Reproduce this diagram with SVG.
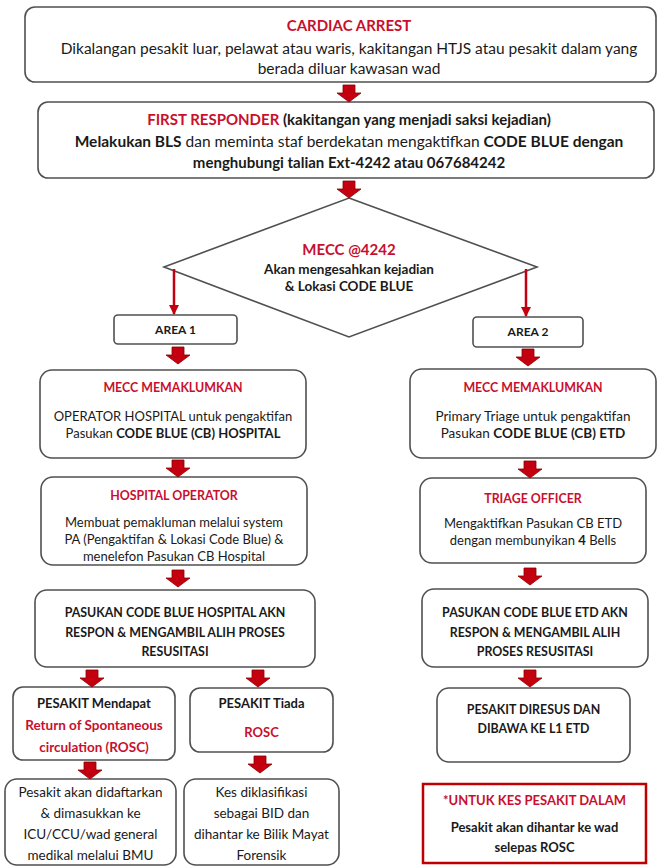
<svg xmlns="http://www.w3.org/2000/svg" width="658" height="867" viewBox="0 0 658 867">
<defs>
<style>
.box{fill:#fff;stroke:#505050;stroke-width:1.6}
.rbox{fill:#fff;stroke:#c00000;stroke-width:2.5}
text{font-family:Lato,"Liberation Sans",sans-serif;text-anchor:middle;fill:#1a1a1a}
.b{font-weight:bold}
.r{fill:#c8102e;font-weight:bold}
.f15{font-size:15.5px}
.f15b{font-size:15px}
.f13{font-size:13px}
.f13b{font-size:13.5px}
.fc{font-size:12.4px}
.f12{font-size:12px}
.ba{fill:#c40010;stroke:#8c0000;stroke-width:0.8}
.thin{stroke:#c40010;stroke-width:2.5;fill:none}
</style>
<path id="ba" d="M-6,0H6V8H12L0,17L-12,8H-6Z"/>
<marker id="ah" viewBox="0 0 10 10" refX="9" refY="5" markerWidth="4" markerHeight="4" orient="auto"><path d="M0,0L10,5L0,10Z" fill="#c40010"/></marker>
</defs>
<rect width="658" height="867" fill="#fff"/>

<g id="n-cardiac">
<rect class="box" x="25" y="7" width="631" height="75" rx="10"/>
<text x="349" y="31" class="f15b r">CARDIAC ARREST</text>
<text x="349" y="54" class="f15">Dikalangan pesakit luar, pelawat atau waris, kakitangan HTJS atau pesakit dalam yang</text>
<text x="349" y="74" class="f15">berada diluar kawasan wad</text>
</g>

<g id="n-first">
<rect class="box" x="38" y="102" width="616" height="76" rx="10"/>
<text x="349" y="125" class="f15b b"><tspan class="r">FIRST RESPONDER</tspan> (kakitangan yang menjadi saksi kejadian)</text>
<text x="349" y="147" class="f15"><tspan class="b">Melakukan BLS</tspan> dan meminta staf berdekatan mengaktifkan <tspan class="b">CODE BLUE dengan</tspan></text>
<text x="349" y="168" class="f15b b">menghubungi talian Ext-4242 atau 067684242</text>
</g>

<g id="n-mecc">
<polygon class="box" points="349,198 537,267 349,337 164,267"/>
<text x="349" y="255" class="f15b r">MECC @4242</text>
<text x="349" y="274" class="f13b b">Akan mengesahkan kejadian</text>
<text x="349" y="291" class="f13b b">&amp; Lokasi CODE BLUE</text>
</g>

<g id="n-area1">
<rect class="box" x="114" y="315" width="123" height="29" rx="4"/>
<text x="175.5" y="334" class="f12 b">AREA 1</text>
</g>

<g id="n-area2">
<rect class="box" x="473" y="317" width="110" height="30" rx="4"/>
<text x="528" y="336" class="f12 b">AREA 2</text>
</g>

<g id="n-l1">
<rect class="box" x="40" y="370" width="266" height="88" rx="12"/>
<text x="173" y="392" class="fc r">MECC MEMAKLUMKAN</text>
<text x="173" y="421" class="f13">OPERATOR HOSPITAL untuk pengaktifan</text>
<text x="173" y="438" class="f13">Pasukan <tspan class="b">CODE BLUE (CB) HOSPITAL</tspan></text>
</g>

<g id="n-l2">
<rect class="box" x="41" y="477" width="266" height="88" rx="12"/>
<text x="174" y="500" class="fc r">HOSPITAL OPERATOR</text>
<text x="174" y="527" class="f13">Membuat pemakluman melalui system</text>
<text x="174" y="544" class="f13">PA (Pengaktifan &amp; Lokasi Code Blue) &amp;</text>
<text x="174" y="561" class="f13">menelefon Pasukan CB Hospital</text>
</g>

<g id="n-l3">
<rect class="box" x="35" y="590" width="280" height="77" rx="12"/>
<text x="175" y="617" class="fc b">PASUKAN CODE BLUE HOSPITAL AKN</text>
<text x="175" y="637" class="fc b">RESPON &amp; MENGAMBIL ALIH PROSES</text>
<text x="175" y="656" class="fc b">RESUSITASI</text>
</g>

<g id="n-l4a">
<rect class="box" x="13" y="687" width="162" height="73" rx="10"/>
<text x="94" y="708" class="f13 b">PESAKIT Mendapat</text>
<text x="94" y="730" class="f13b r">Return of Spontaneous</text>
<text x="94" y="752" class="f13b r">circulation (ROSC)</text>
</g>

<g id="n-l4b">
<rect class="box" x="190" y="688" width="143" height="64" rx="10"/>
<text x="261.5" y="708" class="f13 b">PESAKIT Tiada</text>
<text x="261.5" y="737" class="f13 r">ROSC</text>
</g>

<g id="n-l5a">
<rect class="box" x="5" y="779" width="171" height="86" rx="12"/>
<text x="90.5" y="797" class="f13b">Pesakit akan didaftarkan</text>
<text x="90.5" y="818" class="f13b">&amp; dimasukkan ke</text>
<text x="90.5" y="839" class="f13b">ICU/CCU/wad general</text>
<text x="90.5" y="860" class="f13b">medikal melalui BMU</text>
</g>

<g id="n-l5b">
<rect class="box" x="184" y="779" width="155" height="86" rx="12"/>
<text x="261.5" y="797" class="f13b">Kes diklasifikasi</text>
<text x="261.5" y="818" class="f13b">sebagai BID dan</text>
<text x="261.5" y="839" class="f13b">dihantar ke Bilik Mayat</text>
<text x="261.5" y="860" class="f13b">Forensik</text>
</g>

<g id="n-r1">
<rect class="box" x="410" y="369" width="246" height="89" rx="12"/>
<text x="533" y="392" class="fc r">MECC MEMAKLUMKAN</text>
<text x="533" y="421" class="f13b">Primary Triage untuk pengaktifan</text>
<text x="533" y="438" class="f13b">Pasukan <tspan class="b">CODE BLUE (CB) ETD</tspan></text>
</g>

<g id="n-r2">
<rect class="box" x="420" y="478" width="226" height="85" rx="12"/>
<text x="533" y="503" class="fc r">TRIAGE OFFICER</text>
<text x="533" y="528" class="f13">Mengaktifkan Pasukan CB ETD</text>
<text x="533" y="545" class="f13">dengan membunyikan <tspan class="b">4</tspan> Bells</text>
</g>

<g id="n-r3">
<rect class="box" x="422" y="589" width="226" height="78" rx="12"/>
<text x="535" y="617" class="fc b">PASUKAN CODE BLUE ETD AKN</text>
<text x="535" y="637" class="fc b">RESPON &amp; MENGAMBIL ALIH</text>
<text x="535" y="656" class="fc b">PROSES RESUSITASI</text>
</g>

<g id="n-r4">
<rect class="box" x="437" y="688" width="193" height="74" rx="12"/>
<text x="533.5" y="714" class="fc b">PESAKIT DIRESUS DAN</text>
<text x="533.5" y="733" class="fc b">DIBAWA KE L1 ETD</text>
</g>

<g id="n-note">
<rect class="rbox" x="423" y="784" width="223" height="79"/>
<text x="534.5" y="805" class="f13 r">*UNTUK KES PESAKIT DALAM</text>
<text x="534.5" y="832" class="f13 b">Pesakit akan dihantar ke wad</text>
<text x="534.5" y="852" class="f13 b">selepas ROSC</text>
</g>

<g id="connectors">
<use href="#ba" class="ba" x="349" y="85"/>
<use href="#ba" class="ba" x="349" y="181"/>
<line class="thin" x1="174" y1="269" x2="174" y2="314" marker-end="url(#ah)"/>
<line class="thin" x1="526" y1="269" x2="526" y2="316" marker-end="url(#ah)"/>
<use href="#ba" class="ba" x="178" y="347"/>
<use href="#ba" class="ba" x="528" y="349"/>
<use href="#ba" class="ba" x="178" y="460"/>
<use href="#ba" class="ba" x="178" y="570"/>
<use href="#ba" class="ba" x="92" y="670"/>
<use href="#ba" class="ba" x="258" y="670"/>
<use href="#ba" class="ba" x="90" y="762"/>
<use href="#ba" class="ba" x="260" y="756"/>
<use href="#ba" class="ba" x="530" y="461"/>
<use href="#ba" class="ba" x="530" y="568"/>
<use href="#ba" class="ba" x="530" y="670"/>
</g>
</svg>
